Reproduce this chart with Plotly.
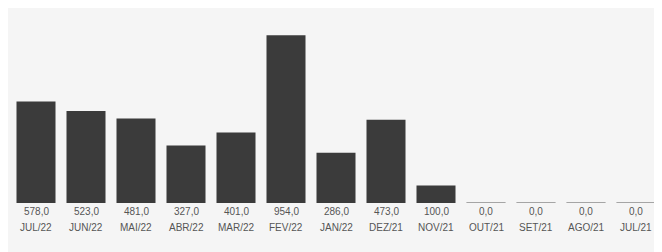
import plotly.graph_objects as go

months = ["JUL/22", "JUN/22", "MAI/22", "ABR/22", "MAR/22", "FEV/22", "JAN/22",
          "DEZ/21", "NOV/21", "OUT/21", "SET/21", "AGO/21", "JUL/21"]
values = [578, 523, 481, 327, 401, 954, 286, 473, 100, 0, 0, 0, 0]

def fmt(v):
    return f"{v:.1f}".replace(".", ",")

fig = go.Figure()
fig.add_trace(go.Bar(
    x=months, y=values,
    marker=dict(color="#3b3b3b", line=dict(color="#8a8a8a", width=[0 if v else 1 for v in values])),
    width=0.78,
))

annotations = []
for m, v in zip(months, values):
    annotations.append(dict(x=m, y=0, xref="x", yref="y", text=fmt(v), showarrow=False,
                            yanchor="top", yshift=-1,
                            font=dict(family="Liberation Sans, Arial", size=10, color="#555555")))
    annotations.append(dict(x=m, y=0, xref="x", yref="y", text=m, showarrow=False,
                            yanchor="top", yshift=-17,
                            font=dict(family="Liberation Sans, Arial", size=10, color="#555555")))

fig.update_layout(
    width=662, height=252,
    margin=dict(l=3, r=9, t=12, b=57),
    paper_bgcolor="#f5f5f5", plot_bgcolor="#f5f5f5",
    showlegend=False,
    annotations=annotations,
    xaxis=dict(showticklabels=False, showgrid=False, zeroline=False, showline=False, ticks=""),
    yaxis=dict(range=[0, 1041], showticklabels=False, showgrid=False, zeroline=False, showline=False),
)
fig.write_html("out.html")
